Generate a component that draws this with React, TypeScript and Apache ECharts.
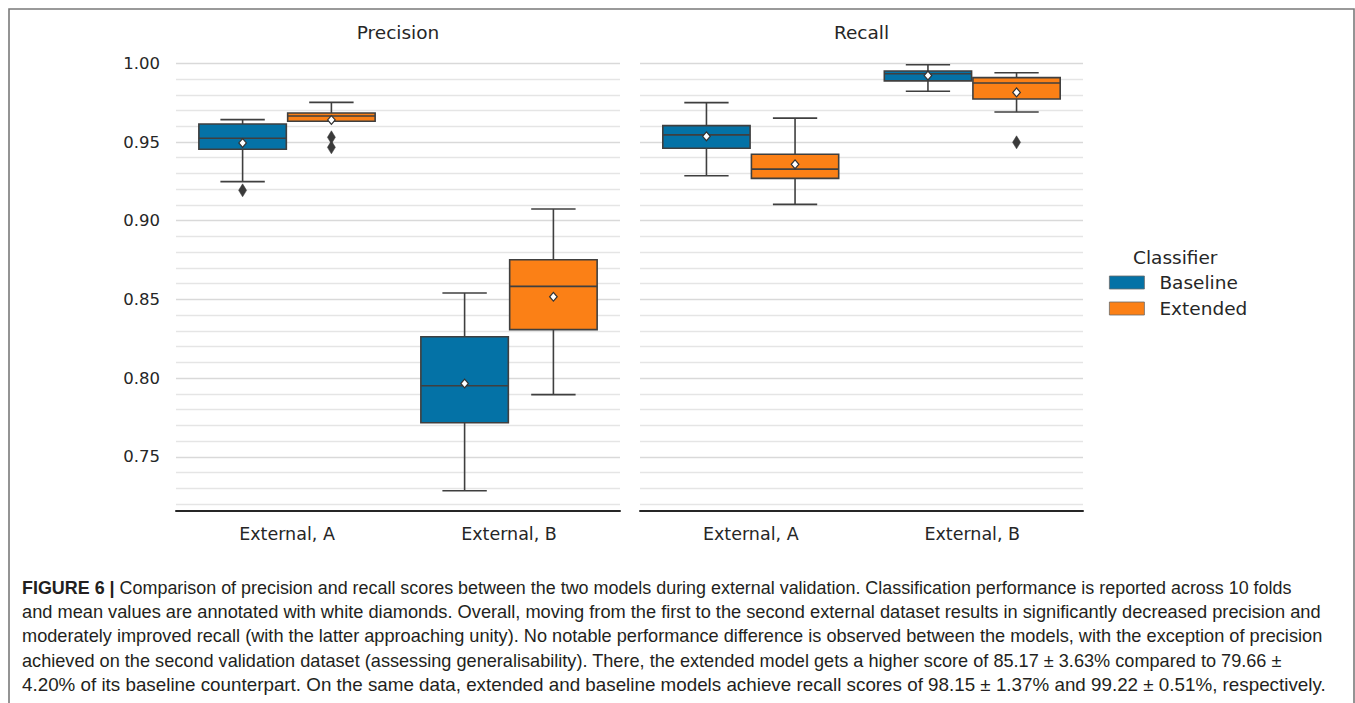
import React, { useEffect, useRef } from 'react';
import * as echarts from 'echarts';

// Categories and classifiers
const categories = ['External, A', 'External, B'];
const classifiers = ['Baseline', 'Extended'];
const classifierColors = ['#0472a6', '#fb8016'];

// Five-number summaries per category: [lower whisker, Q1, median, Q3, upper whisker]
const precisionBaseline = [
  [0.9248, 0.9454, 0.9524, 0.9614, 0.9642],
  [0.7285, 0.7717, 0.7952, 0.8263, 0.8541],
];
const precisionExtended = [
  [0.9632, 0.9632, 0.9665, 0.9684, 0.9752],
  [0.7895, 0.8308, 0.8583, 0.8752, 0.9074],
];
const recallBaseline = [
  [0.9286, 0.946, 0.9545, 0.9604, 0.975],
  [0.9822, 0.9888, 0.9934, 0.9951, 0.9991],
];
const recallExtended = [
  [0.9104, 0.9269, 0.9328, 0.9422, 0.9652],
  [0.9691, 0.9773, 0.9875, 0.9909, 0.994],
];

// Mean scores per category
const precisionBaselineMean = [0.9494, 0.7966];
const precisionExtendedMean = [0.964, 0.8517];
const recallBaselineMean = [0.9536, 0.9922];
const recallExtendedMean = [0.9358, 0.9815];

// Outliers: [category index, value]
const precisionBaselineOutliers = [[0, 0.9193]];
const precisionExtendedOutliers = [[0, 0.953], [0, 0.9466]];
const recallBaselineOutliers: number[][] = [];
const recallExtendedOutliers = [[1, 0.9498]];

// Axis ticks and grid lines
const yMin = 0.7156;
const yMax = 1.008;
const yTickValues = [0.75, 0.8, 0.85, 0.9, 0.95, 1.0];
const yGridValues = [
  0.72, 0.73, 0.74, 0.75, 0.76, 0.77, 0.78, 0.79, 0.8, 0.81, 0.82, 0.83, 0.84, 0.85,
  0.86, 0.87, 0.88, 0.89, 0.9, 0.91, 0.92, 0.93, 0.94, 0.95, 0.96, 0.97, 0.98, 0.99, 1.0,
];
// Grid line colours cycle so that every 0.05 line is a touch darker
const gridColors = ['#e5e5e5', '#e5e5e5', '#e5e5e5', '#d9d9d9', '#e5e5e5'];

const panelTitles = ['Precision', 'Recall'];
const legendTitle = 'Classifier';

const captionLines = [
  ' Comparison of precision and recall scores between the two models during external validation. Classification performance is reported across 10 folds',
  'and mean values are annotated with white diamonds. Overall, moving from the first to the second external dataset results in significantly decreased precision and',
  'moderately improved recall (with the latter approaching unity). No notable performance difference is observed between the models, with the exception of precision',
  'achieved on the second validation dataset (assessing generalisability). There, the extended model gets a higher score of 85.17 ± 3.63% compared to 79.66 ±',
  '4.20% of its baseline counterpart. On the same data, extended and baseline models achieve recall scores of 98.15 ± 1.37% and 99.22 ± 0.51%, respectively.',
];
const captionLabel = 'FIGURE 6 |';
const captionRight = [1292, 1322, 1323, 1283, 1326];

const EDGE = '#3f3f3f';
const TEXT = '#262626';
const FONT = 'DejaVu Sans';
const CAPTION_FONT = 'Liberation Sans';
const CAPTION_SIZE = 17.5;
const HUE_OFFSETS = [-0.2, 0.2];
const BOX_FRACTION = 0.4 * 0.985;

function measure(text: string, font: string): number {
  const ctx = document.createElement('canvas').getContext('2d');
  if (!ctx) return text.length * 8;
  ctx.font = font;
  return ctx.measureText(text).width;
}

function renderBox(_params: any, api: any) {
  const cat = api.value(0);
  const hue = api.value(1);
  const band = api.size([1, 0])[0];
  const cx = api.coord([cat, api.value(4)])[0] + HUE_OFFSETS[hue] * band;
  const y = (i: number) => api.coord([cat, api.value(i)])[1];
  const yLo = y(2);
  const yQ1 = y(3);
  const yMed = y(4);
  const yQ3 = y(5);
  const yHi = y(6);
  const half = (band * BOX_FRACTION) / 2;
  const capHalf = (band * 0.4) / 4;
  const line = { stroke: EDGE, lineWidth: 1.6 };
  return {
    type: 'group',
    children: [
      { type: 'line', shape: { x1: cx, y1: yQ3, x2: cx, y2: yHi }, style: line },
      { type: 'line', shape: { x1: cx, y1: yQ1, x2: cx, y2: yLo }, style: line },
      { type: 'line', shape: { x1: cx - capHalf, y1: yHi, x2: cx + capHalf, y2: yHi }, style: line },
      { type: 'line', shape: { x1: cx - capHalf, y1: yLo, x2: cx + capHalf, y2: yLo }, style: line },
      {
        type: 'rect',
        shape: { x: cx - half, y: yQ3, width: half * 2, height: yQ1 - yQ3 },
        style: { fill: api.visual('color'), stroke: EDGE, lineWidth: 1.6 },
      },
      { type: 'line', shape: { x1: cx - half, y1: yMed, x2: cx + half, y2: yMed }, style: line },
    ],
  };
}

function diamondRenderer(halfW: number, halfH: number, fill: string, stroke: string, lineWidth: number) {
  return (_params: any, api: any) => {
    const cat = api.value(0);
    const hue = api.value(1);
    const band = api.size([1, 0])[0];
    const p = api.coord([cat, api.value(2)]);
    const cx = p[0] + HUE_OFFSETS[hue] * band;
    const cy = p[1];
    return {
      type: 'polygon',
      shape: {
        points: [
          [cx, cy - halfH],
          [cx + halfW, cy],
          [cx, cy + halfH],
          [cx - halfW, cy],
        ],
      },
      style: { fill, stroke, lineWidth },
    };
  };
}

function boxData(stats: number[][], hue: number) {
  return stats.map((s, i) => [i, hue, ...s]);
}
function pointData(values: number[], hue: number) {
  return values.map((v, i) => [i, hue, v]);
}
function outlierData(points: number[][], hue: number) {
  return points.map((p) => [p[0], hue, p[1]]);
}

export default function App() {
  const ref = useRef<HTMLDivElement>(null);

  useEffect(() => {
    if (!ref.current) return;
    const chart = echarts.init(ref.current, undefined, { renderer: 'svg' });

    const panels = [
      { base: precisionBaseline, ext: precisionExtended, baseMean: precisionBaselineMean, extMean: precisionExtendedMean, baseOut: precisionBaselineOutliers, extOut: precisionExtendedOutliers },
      { base: recallBaseline, ext: recallExtended, baseMean: recallBaselineMean, extMean: recallExtendedMean, baseOut: recallBaselineOutliers, extOut: recallExtendedOutliers },
    ];

    const series: any[] = [];
    panels.forEach((p, gi) => {
      [p.base, p.ext].forEach((stats, hue) => {
        series.push({
          type: 'custom',
          name: classifiers[hue],
          xAxisIndex: gi,
          yAxisIndex: gi,
          renderItem: renderBox,
          itemStyle: { color: classifierColors[hue] },
          encode: { x: 0, y: [2, 3, 4, 5, 6] },
          data: boxData(stats, hue),
          z: 2,
          silent: true,
        });
      });
      [p.baseOut, p.extOut].forEach((pts, hue) => {
        series.push({
          type: 'custom',
          name: 'outliers',
          xAxisIndex: gi,
          yAxisIndex: gi,
          renderItem: diamondRenderer(4, 6.5, '#3a3a3a', '#3a3a3a', 0.5),
          encode: { x: 0, y: 2 },
          data: outlierData(pts, hue),
          z: 3,
          silent: true,
        });
      });
      [p.baseMean, p.extMean].forEach((vals, hue) => {
        series.push({
          type: 'custom',
          name: 'means',
          xAxisIndex: gi,
          yAxisIndex: gi,
          renderItem: diamondRenderer(3.8, 4.4, '#ffffff', '#333333', 1.2),
          encode: { x: 0, y: 2 },
          data: pointData(vals, hue),
          z: 4,
          silent: true,
        });
      });
    });

    const gridTop = 50.7;
    const gridHeight = 460.3;
    const grids = [
      { left: 176, top: gridTop, width: 444, height: gridHeight },
      { left: 640, top: gridTop, width: 443, height: gridHeight },
    ];

    const xAxes = grids.map((_g, gi) => ({
      type: 'category',
      gridIndex: gi,
      data: categories,
      axisLine: { show: true, lineStyle: { color: TEXT, width: 2 } },
      axisTick: { show: false },
      axisLabel: { fontFamily: FONT, fontSize: 17.5, color: TEXT, margin: 14 },
      splitLine: { show: false },
    }));

    const yAxes = grids.map((_g, gi) => ({
      type: 'value',
      gridIndex: gi,
      min: yMin,
      max: yMax,
      axisLine: { show: false },
      axisTick: { show: false, customValues: yGridValues },
      axisLabel: {
        show: gi === 0,
        customValues: yTickValues,
        formatter: (v: number) => v.toFixed(2),
        fontFamily: FONT,
        fontSize: 16.5,
        color: TEXT,
        margin: 16,
      },
      splitLine: { show: true, lineStyle: { color: gridColors, width: 1.3 } },
    }));

    // Caption lines, condensed horizontally to the column width
    const regular = `${CAPTION_SIZE}px "${CAPTION_FONT}"`;
    const bold = `bold ${CAPTION_SIZE}px "${CAPTION_FONT}"`;
    const captionLeft = 22;
    const captionY = [588, 612.3, 636.6, 661, 685.3];
    const captionGraphics = captionLines.map((line, i) => {
      const natural = i === 0 ? measure(captionLabel, bold) + measure(line, regular) : measure(line, regular);
      const scaleX = (captionRight[i] - captionLeft) / natural;
      return {
        type: 'text',
        x: captionLeft,
        y: captionY[i],
        scaleX,
        silent: true,
        style: {
          text: i === 0 ? `{b|${captionLabel}}${line}` : line,
          fontFamily: CAPTION_FONT,
          fontSize: CAPTION_SIZE,
          fill: '#231f20',
          verticalAlign: 'middle',
          rich: i === 0 ? { b: { fontWeight: 'bold', fontFamily: CAPTION_FONT, fontSize: CAPTION_SIZE, fill: '#231f20' } } : undefined,
        },
      };
    });

    chart.setOption({
      animation: false,
      backgroundColor: '#ffffff',
      grid: grids,
      xAxis: xAxes,
      yAxis: yAxes,
      legend: {
        data: classifiers,
        orient: 'vertical',
        left: 1109,
        top: 273,
        padding: 0,
        icon: 'rect',
        itemWidth: 35,
        itemHeight: 13,
        itemGap: 7,
        selectedMode: false,
        itemStyle: { borderColor: '#6a6a6a', borderWidth: 0.8 },
        textStyle: { fontFamily: FONT, fontSize: 18.5, color: TEXT, padding: [0, 0, 0, 10] },
      },
      graphic: [
        {
          type: 'rect',
          silent: true,
          shape: { x: 9, y: 9, width: 1345, height: 720 },
          style: { fill: 'none', stroke: '#7a7a7a', lineWidth: 1.6 },
        },
        ...panelTitles.map((t, i) => ({
          type: 'text',
          x: i === 0 ? 398 : 861.5,
          y: 32,
          silent: true,
          style: { text: t, fontFamily: FONT, fontSize: 18.5, fill: TEXT, align: 'center', verticalAlign: 'middle' },
        })),
        {
          type: 'text',
          x: 1133,
          y: 257,
          silent: true,
          style: { text: legendTitle, fontFamily: FONT, fontSize: 18.5, fill: TEXT, verticalAlign: 'middle' },
        },
        ...captionGraphics,
      ],
      series,
    });

    return () => chart.dispose();
  }, []);

  return <div ref={ref} style={{ position: 'absolute', left: 0, top: 0, width: 1355, height: 703 }} />;
}
